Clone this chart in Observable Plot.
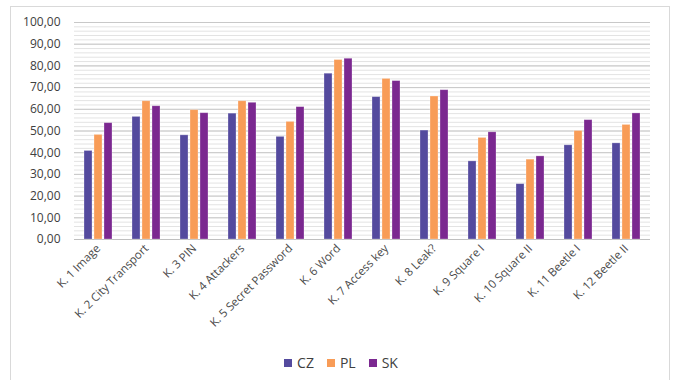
<!DOCTYPE html>
<html>
<head>
<meta charset="utf-8">
<script src="https://cdn.jsdelivr.net/npm/d3@7"></script>
<script src="https://cdn.jsdelivr.net/npm/@observablehq/plot@0.6"></script>
<style>
  html, body { margin: 0; padding: 0; background: #fff; }
  #wrap { position: relative; width: 673px; height: 380px; overflow: hidden; font-family: "Open Sans", sans-serif; }
  #frame { position: absolute; left: 10px; top: 6px; width: 660px; height: 380px; border: 1px solid #d9d9d9; box-sizing: border-box; }
  #chart { position: absolute; left: 0; top: 0; }
  #chart svg text { -webkit-font-smoothing: antialiased; }
  #legend { position: absolute; left: 10px; top: 353px; width: 662px; display: flex; justify-content: center; gap: 13px; font-size: 14px; color: #404040; }
  .item { display: flex; align-items: center; }
  .sw { width: 8px; height: 8px; margin-right: 5px; }
</style>
</head>
<body>
<div id="wrap">
  <div id="frame"></div>
  <div id="chart"></div>
  <div id="legend"></div>
</div>
<script>
const categories = ["K. 1 Image", "K. 2 City Transport", "K. 3 PIN", "K. 4 Attackers", "K. 5 Secret Password", "K. 6 Word", "K. 7 Access key", "K. 8 Leak?", "K. 9 Square I", "K. 10 Square II", "K. 11 Beetle I", "K. 12 Beetle II"];
const series = ["CZ", "PL", "SK"];
const cz = [40.8, 56.5, 48.0, 58.0, 47.3, 76.4, 65.6, 50.2, 36.0, 25.5, 43.4, 44.3];
const pl = [48.2, 63.7, 59.6, 63.7, 54.2, 82.7, 74.0, 65.9, 46.8, 36.8, 50.0, 52.8];
const sk = [53.6, 61.4, 58.2, 63.0, 61.0, 83.3, 73.0, 68.8, 49.4, 38.3, 55.0, 58.1];
const colors = ["#544A9E", "#F89C57", "#7B2890"];
const yTicks = [0, 10, 20, 30, 40, 50, 60, 70, 80, 90, 100];
const yMinor = d3.range(0, 101, 2);

const valuesBySeries = {CZ: cz, PL: pl, SK: sk};
const data = [];
categories.forEach((c, i) => {
  series.forEach(s => data.push({cat: c, series: s, value: valuesBySeries[s][i]}));
});

const fmt = d => d.toFixed(2).replace(".", ",");

const chart = Plot.plot({
  width: 673,
  height: 340,
  marginLeft: 71,
  marginRight: 21,
  marginTop: 22,
  marginBottom: 101,
  style: {fontFamily: "Open Sans, sans-serif", background: "transparent", color: "#404040"},
  fx: {domain: categories, padding: 0, label: null},
  x: {domain: series, paddingInner: 0.19, paddingOuter: 0.9, axis: null},
  y: {domain: [0, 100], label: null},
  color: {domain: series, range: colors},
  marks: [
    Plot.gridY(yMinor, {stroke: "#e3e3e3", strokeOpacity: 1, strokeWidth: 1}),
    Plot.gridY(yTicks, {stroke: "#c8c8c8", strokeOpacity: 1, strokeWidth: 1}),
    Plot.ruleY([0], {stroke: "#bfbfbf", strokeWidth: 1}),
    Plot.barY(data, {fx: "cat", x: "series", y: "value", fill: "series", inset: 0, stroke: "#ffffff", strokeOpacity: 0.35, strokeWidth: 0.8}),
    Plot.axisY(yTicks, {tickSize: 0, tickPadding: 14, tickFormat: fmt, fontSize: 12, label: null}),
    Plot.axisFx({tickRotate: -45, tickSize: 0, tickPadding: 7, fontSize: 11.5, label: null, anchor: "bottom"})
  ]
});
d3.select(chart).selectAll("g[aria-label^='fx-axis']").attr("fill", "#4a4a4a");
d3.select(chart).selectAll("g[aria-label^='fx-axis'] text").attr("fill", "#4a4a4a");
document.getElementById("chart").appendChild(chart);

const legend = document.getElementById("legend");
series.forEach((s, i) => {
  const it = document.createElement("div");
  it.className = "item";
  const sw = document.createElement("div");
  sw.className = "sw";
  sw.style.background = colors[i];
  const t = document.createElement("span");
  t.textContent = s;
  it.appendChild(sw);
  it.appendChild(t);
  legend.appendChild(it);
});
</script>
</body>
</html>
